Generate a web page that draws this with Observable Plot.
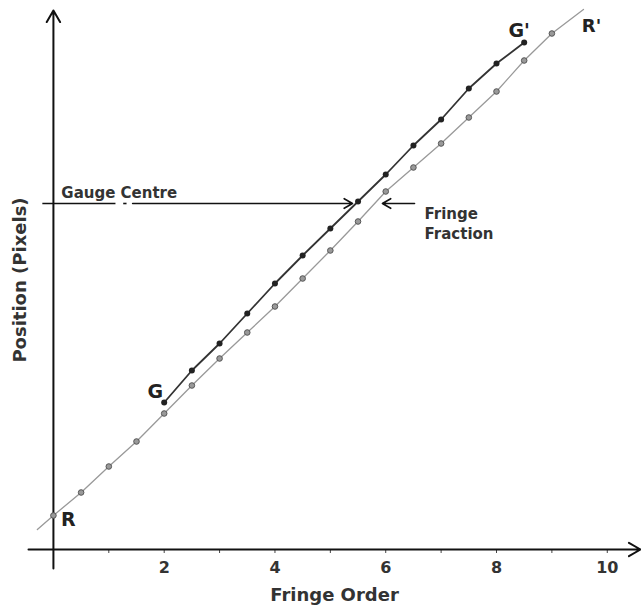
<!DOCTYPE html>
<html><head><meta charset="utf-8">
<script src="https://cdn.jsdelivr.net/npm/d3@7"></script>
<script src="https://cdn.jsdelivr.net/npm/@observablehq/plot@0.6"></script>
<style>body{margin:0;background:#fff}#chart svg{display:block;background:#fff}</style>
</head><body><div id="chart"></div>
<script>
// Reference (R) fringe series
const rOrder = [0, 0.5, 1, 1.5, 2, 2.5, 3, 3.5, 4, 4.5, 5, 5.5, 6, 6.5, 7, 7.5, 8, 8.5, 9];
const rPosition = [34, 57, 83, 108, 136, 164, 191, 217, 243, 271, 299, 328, 358, 382, 406, 432, 458, 489, 516];
// Gauge (G) fringe series
const gOrder = [2, 2.5, 3, 3.5, 4, 4.5, 5, 5.5, 6, 6.5, 7, 7.5, 8, 8.5];
const gPosition = [147, 179, 206, 236, 266, 294, 321, 348, 375, 404, 430, 461, 486, 507];
// R line drawn past its first and last points
const rLineEndOrder = [-0.29, 9.57];
const rLineEndPosition = [20, 540];
// Gauge centre level and fringe-fraction arrow ends
const gaugeCentre = 346;
const gaugeLineStarts = [-0.2, 1.26];
const gaugeLineEnds = [1.12, 1.32];
const fractionArrowFrom = [1.43, 6.52];
const fractionArrowTo = [5.40, 5.94];
// Axis
const xDomain = [-0.45, 10.6];
const yDomain = [0, 539];
const yAxisBottom = -19;
const xTicks = [1, 2, 3, 4, 5, 6, 7, 8, 9, 10];
const xTickLabels = ["", "2", "", "4", "", "6", "", "8", "", "10"];
const xTitle = "Fringe Order";
const yTitle = "Position (Pixels)";

const rPts = rOrder.map((x, i) => ({x, y: rPosition[i]}));
const gPts = gOrder.map((x, i) => ({x, y: gPosition[i]}));
const rLine = [{x: rLineEndOrder[0], y: rLineEndPosition[0]}, ...rPts, {x: rLineEndOrder[1], y: rLineEndPosition[1]}];
const gaugeSegs = gaugeLineStarts.map((x1, i) => ({x1, x2: gaugeLineEnds[i], y: gaugeCentre}));
const fracArrows = fractionArrowFrom.map((x1, i) => ({x1, x2: fractionArrowTo[i], y: gaugeCentre}));
const axesArrows = [
  {x1: xDomain[0], y1: 0, x2: xDomain[1], y2: 0},
  {x1: 0, y1: yAxisBottom, x2: 0, y2: yDomain[1]}
];
const font = "DejaVu Sans";

const chart = Plot.plot({
  width: 641, height: 614,
  marginLeft: 28, marginRight: 1, marginTop: 10, marginBottom: 65,
  x: {domain: xDomain, axis: null},
  y: {domain: yDomain, axis: null},
  style: {fontFamily: font, background: "#fff"},
  marks: [
    Plot.axisX({ticks: xTicks, tickFormat: (d, i) => xTickLabels[i], tickSize: 4, tickPadding: 8,
      fontSize: 16, fontWeight: "bold", fill: "#333", stroke: "#444", strokeWidth: 1, label: null}),
    Plot.arrow(axesArrows, {x1: "x1", y1: "y1", x2: "x2", y2: "y2", stroke: "#111", strokeWidth: 2, headLength: 10}),
    Plot.line(rLine, {x: "x", y: "y", stroke: "#999", strokeWidth: 1.3}),
    Plot.line(gPts, {x: "x", y: "y", stroke: "#333", strokeWidth: 1.8}),
    Plot.dot(rPts, {x: "x", y: "y", r: 2.8, fill: "#999", stroke: "#555", strokeWidth: 1}),
    Plot.dot(gPts, {x: "x", y: "y", r: 3, fill: "#222"}),
    Plot.link(gaugeSegs, {x1: "x1", x2: "x2", y1: "y", y2: "y", stroke: "#111", strokeWidth: 1.6}),
    Plot.arrow(fracArrows, {x1: "x1", x2: "x2", y1: "y", y2: "y", stroke: "#111", strokeWidth: 1.6, headLength: 9}),
    Plot.text(["Gauge Centre"], {x: gaugeLineStarts[0], y: gaugeCentre, dx: 19, dy: -10.5, textAnchor: "start",
      fontSize: 15, fontWeight: "bold", fill: "#333"}),
    Plot.text(["Fringe\nFraction"], {x: fractionArrowFrom[1], y: gaugeCentre, dx: 10, dy: 1, textAnchor: "start",
      lineAnchor: "top", lineHeight: 1.35, fontSize: 15, fontWeight: "bold", fill: "#333"}),
    Plot.text([gPts[0]], {x: "x", y: "y", text: () => "G", dx: -9, dy: -11, fontSize: 19, fontWeight: "bold", fill: "#222"}),
    Plot.text([gPts[gPts.length - 1]], {x: "x", y: "y", text: () => "G'", dx: -5, dy: -12, fontSize: 19, fontWeight: "bold", fill: "#222"}),
    Plot.text([rPts[0]], {x: "x", y: "y", text: () => "R", dx: 15, dy: 4, fontSize: 19, fontWeight: "bold", fill: "#222"}),
    Plot.text([rLine[rLine.length - 1]], {x: "x", y: "y", text: () => "R'", dx: 8, dy: 17, fontSize: 18, fontWeight: "bold", fill: "#222"}),
    Plot.text([xTitle], {frameAnchor: "bottom", dy: 51, fontSize: 18, fontWeight: "bold", fill: "#333"}),
    Plot.text([yTitle], {frameAnchor: "left", textAnchor: "middle", dx: -8, rotate: -90, fontSize: 18, fontWeight: "bold", fill: "#333"})
  ]
});
document.getElementById("chart").append(chart);
</script>
</body></html>
